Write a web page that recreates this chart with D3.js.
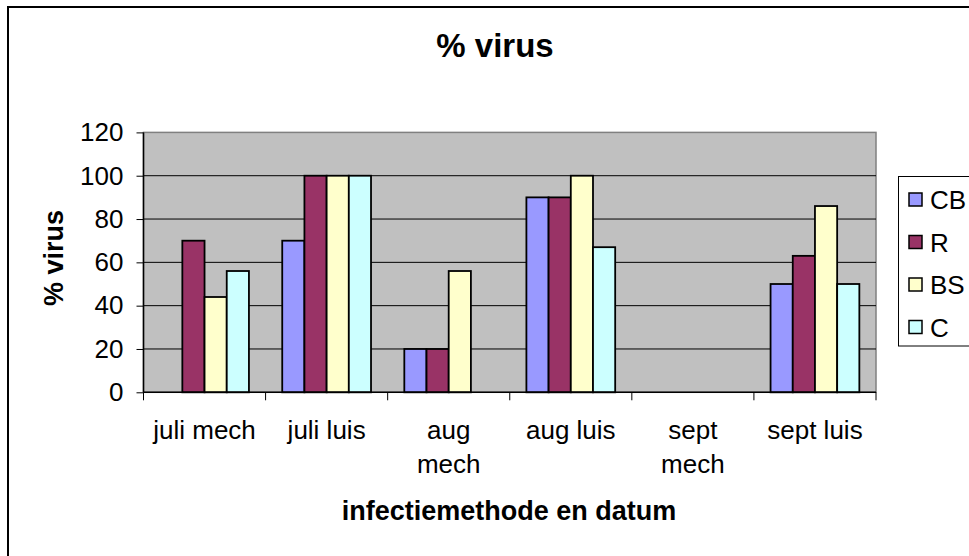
<!DOCTYPE html>
<html>
<head>
<meta charset="utf-8">
<script src="https://cdn.jsdelivr.net/npm/d3@7"></script>
<style>
  html, body { margin: 0; padding: 0; background: #fff; }
  svg { display: block; }
  text { font-family: "Liberation Sans", Arial, sans-serif; fill: #000; }
</style>
</head>
<body>
<svg id="chart" width="969" height="556"></svg>
<script>
const categories = [["juli mech"], ["juli luis"], ["aug", "mech"], ["aug luis"], ["sept", "mech"], ["sept luis"]];
const seriesNames = ["CB", "R", "BS", "C"];
const seriesColors = ["#9999FF", "#993366", "#FFFFCC", "#CCFFFF"];
const valuesCB = [null, 70, 20, 90, null, 50];
const valuesR  = [70, 100, 20, 90, null, 63];
const valuesBS = [44, 100, 56, 100, null, 86];
const valuesC  = [56, 100, null, 67, null, 50];
const yTicks = [0, 20, 40, 60, 80, 100, 120];

const seriesValues = [valuesCB, valuesR, valuesBS, valuesC];
const svg = d3.select("#chart");

// outer chart border
svg.append("rect").attr("x", 8).attr("y", 7).attr("width", 1000).attr("height", 600)
  .attr("fill", "#fff").attr("stroke", "#000").attr("stroke-width", 2);

const plot = { left: 143.5, right: 876, top: 132.4, bottom: 392.3 };
const catKeys = categories.map((c, i) => i);
const x = d3.scaleBand().domain(catKeys).range([plot.left, plot.right]).padding(0);
const y = d3.scaleLinear().domain([0, 120]).range([plot.bottom, plot.top]);
const barW = x.bandwidth() / (seriesNames.length + 1.5);
const groupOff = (x.bandwidth() - barW * seriesNames.length) / 2;

// plot background
svg.append("rect").attr("x", plot.left).attr("y", plot.top)
  .attr("width", plot.right - plot.left).attr("height", plot.bottom - plot.top)
  .attr("fill", "#C0C0C0").attr("stroke", "#808080").attr("stroke-width", 1.5);

// gridlines
svg.append("g").selectAll("line").data(yTicks.filter(t => t > 0 && t < 120)).join("line")
  .attr("x1", plot.left).attr("x2", plot.right)
  .attr("y1", d => y(d)).attr("y2", d => y(d))
  .attr("stroke", "#000").attr("stroke-width", 1);

// bars
seriesNames.forEach((name, s) => {
  svg.append("g").selectAll("rect")
    .data(seriesValues[s].map((v, i) => ({ v, i })).filter(d => d.v != null))
    .join("rect")
    .attr("x", d => x(d.i) + groupOff + s * barW)
    .attr("y", d => y(d.v))
    .attr("width", barW)
    .attr("height", d => y(0) - y(d.v))
    .attr("fill", seriesColors[s])
    .attr("stroke", "#000").attr("stroke-width", 1.8);
});

// y axis
const yAxis = d3.axisLeft(y).tickValues(yTicks).tickSize(7).tickPadding(13);
const gy = svg.append("g").attr("transform", `translate(${plot.left},0)`).call(yAxis);
gy.select(".domain").attr("stroke", "#000").attr("stroke-width", 1.5).attr("d", `M-0,${plot.top}V${plot.bottom}`);
gy.selectAll(".tick line").attr("stroke", "#000");
gy.selectAll(".tick text").attr("font-size", 26).attr("font-family", "'Liberation Sans', Arial, sans-serif").attr("fill", "#000");

// x axis (tick marks at category boundaries)
const boundaries = d3.range(categories.length + 1).map(i => plot.left + i * x.step());
svg.append("line").attr("x1", plot.left).attr("x2", plot.right)
  .attr("y1", plot.bottom).attr("y2", plot.bottom).attr("stroke", "#000").attr("stroke-width", 1.5);
svg.append("g").selectAll("line").data(boundaries).join("line")
  .attr("x1", d => d).attr("x2", d => d)
  .attr("y1", plot.bottom).attr("y2", plot.bottom + 8)
  .attr("stroke", "#000").attr("stroke-width", 1);

// category labels
const catG = svg.append("g").selectAll("text").data(categories.map((c, i) => ({ c, i }))).join("text")
  .attr("x", d => x(d.i) + x.bandwidth() / 2)
  .attr("y", 439)
  .attr("text-anchor", "middle")
  .attr("font-size", 26);
catG.each(function(d) {
  const t = d3.select(this);
  d.c.forEach((line, k) => {
    t.append("tspan").attr("x", x(d.i) + x.bandwidth() / 2).attr("dy", k === 0 ? 0 : 34).text(line);
  });
});

// titles
svg.append("text").attr("x", 495).attr("y", 57).attr("text-anchor", "middle")
  .attr("font-size", 33).attr("font-weight", "bold").text("% virus");
svg.append("text").attr("x", 509).attr("y", 520).attr("text-anchor", "middle")
  .attr("font-size", 27).attr("font-weight", "bold").text("infectiemethode en datum");
svg.append("text").attr("transform", "translate(63,258) rotate(-90)").attr("text-anchor", "middle")
  .attr("font-size", 27).attr("font-weight", "bold").text("% virus");

// legend
const legend = svg.append("g");
legend.append("rect").attr("x", 898.5).attr("y", 176.5).attr("width", 100).attr("height", 169.5)
  .attr("fill", "#fff").attr("stroke", "#000").attr("stroke-width", 1);
const legendY = d3.scalePoint().domain(seriesNames).range([199.5, 327]);
const li = legend.selectAll("g.item").data(seriesNames).join("g").attr("class", "item");
li.append("rect").attr("x", 909).attr("y", d => legendY(d) - 6.5).attr("width", 13).attr("height", 13)
  .attr("fill", (d, i) => seriesColors[i]).attr("stroke", "#000").attr("stroke-width", 1.5);
li.append("text").attr("x", 930).attr("y", d => legendY(d) + 9.5).attr("font-size", 26).text(d => d);
</script>
</body>
</html>
